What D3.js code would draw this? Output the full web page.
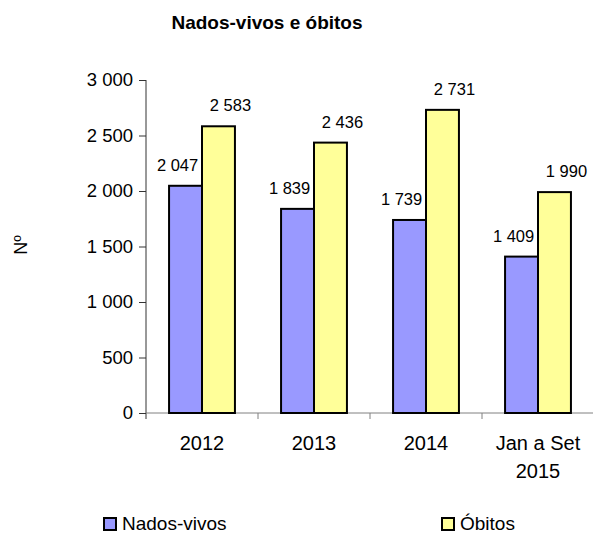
<!DOCTYPE html>
<html>
<head>
<meta charset="utf-8">
<script src="https://cdn.jsdelivr.net/npm/d3@7"></script>
<style>
  body { margin: 0; background: #fff; }
  svg text { font-family: "Liberation Sans", Arial, sans-serif; fill: #000; }
</style>
</head>
<body>
<div id="chart"></div>
<script>
// data
const categories = ["2012", "2013", "2014", "Jan a Set\n2015"];
const seriesNames = ["Nados-vivos", "Óbitos"];
const nadosVivos = [2047, 1839, 1739, 1409];
const obitos = [2583, 2436, 2731, 1990];
const yTicks = [0, 500, 1000, 1500, 2000, 2500, 3000];
const colours = ["#9999ff", "#ffff99"];

const W = 593, H = 535;
const margin = {top: 80, right: 0, bottom: 122, left: 146};

const svg = d3.select("#chart").append("svg")
  .attr("width", W)
  .attr("height", H)
  .style("display", "block");

const fmt = v => d3.format(",")(v).replace(/,/g, " ");

// scales
const x0 = d3.scaleBand().domain(categories).range([margin.left, 594]).padding(0);
const x1 = d3.scaleBand().domain(seriesNames).range([0, x0.bandwidth()]).paddingInner(0).paddingOuter(0.7);
const y = d3.scaleLinear().domain([0, 3000]).range([H - margin.bottom, margin.top]);

// title
svg.append("text")
  .attr("x", 267).attr("y", 29)
  .attr("text-anchor", "middle")
  .style("font-size", "19px").style("font-weight", "bold")
  .text("Nados-vivos e óbitos");

// y axis
const yAxis = svg.append("g")
  .attr("transform", `translate(${margin.left},0)`)
  .call(d3.axisLeft(y).tickValues(yTicks).tickSize(7).tickPadding(6).tickFormat(fmt));
yAxis.select(".domain").attr("stroke", "#333").attr("d", `M0,${y(3000)}V${y(0) + 6}`);
yAxis.selectAll(".tick line").attr("stroke", "#333");
yAxis.selectAll("text").style("font-size", "18.5px").style("font-family", "Liberation Sans, Arial, sans-serif");

// y label
svg.append("text")
  .attr("transform", "translate(27,245) rotate(-90)")
  .attr("text-anchor", "middle")
  .style("font-size", "18px")
  .text("Nº");

// x axis
const xAxisG = svg.append("g").attr("transform", `translate(0,${y(0)})`);
xAxisG.append("line")
  .attr("x1", margin.left).attr("x2", 594)
  .attr("stroke", "#808080");
xAxisG.selectAll(".xtick")
  .data(categories.slice(1))
  .join("line")
  .attr("class", "xtick")
  .attr("x1", d => x0(d)).attr("x2", d => x0(d))
  .attr("y1", 0).attr("y2", 6)
  .attr("stroke", "#808080");

xAxisG.selectAll(".xlabel")
  .data(categories)
  .join("text")
  .attr("class", "xlabel")
  .attr("text-anchor", "middle")
  .style("font-size", "20px")
  .each(function(d) {
    const lines = d.split("\n");
    d3.select(this).selectAll("tspan")
      .data(lines)
      .join("tspan")
      .attr("x", x0(d) + x0.bandwidth() / 2)
      .attr("y", (l, i) => 37 + i * 28)
      .text(l => l);
  });

// bars
const rows = categories.map((c, i) => ({cat: c, values: [nadosVivos[i], obitos[i]]}));

const group = svg.selectAll(".group")
  .data(rows)
  .join("g")
  .attr("class", "group")
  .attr("transform", d => `translate(${x0(d.cat)},0)`);

group.selectAll("rect")
  .data(d => d.values.map((v, j) => ({key: seriesNames[j], value: v, j})))
  .join("rect")
  .attr("x", d => x1(d.key))
  .attr("y", d => y(d.value))
  .attr("width", x1.bandwidth())
  .attr("height", d => y(0) - y(d.value))
  .attr("fill", d => colours[d.j])
  .attr("stroke", "#000")
  .attr("stroke-width", 2);

// data labels
group.each(function(d) {
  const gx = x0(d.cat);
  d3.select(this).selectAll(".lbl")
    .data(d.values.map((v, j) => ({key: seriesNames[j], value: v, j})))
    .join("text")
    .attr("class", "lbl")
    .attr("text-anchor", "middle")
    .style("font-size", "16.5px")
    .attr("x", e => {
      const c = x1(e.key) + x1.bandwidth() / 2 + (e.j === 0 ? -8 : 12);
      return Math.min(c, 575 - gx - 4);
    })
    .attr("y", e => y(e.value) - 15)
    .text(e => fmt(e.value));
});

// legend
const legendX = [104, 442];
const legend = svg.selectAll(".legend")
  .data(seriesNames)
  .join("g")
  .attr("class", "legend")
  .attr("transform", (d, i) => `translate(${legendX[i]},518)`);

legend.append("rect")
  .attr("width", 12).attr("height", 12)
  .attr("fill", (d, i) => colours[i])
  .attr("stroke", "#000").attr("stroke-width", 2);

legend.append("text")
  .attr("x", 18).attr("y", 12)
  .style("font-size", "19px")
  .text(d => d);
</script>
</body>
</html>
